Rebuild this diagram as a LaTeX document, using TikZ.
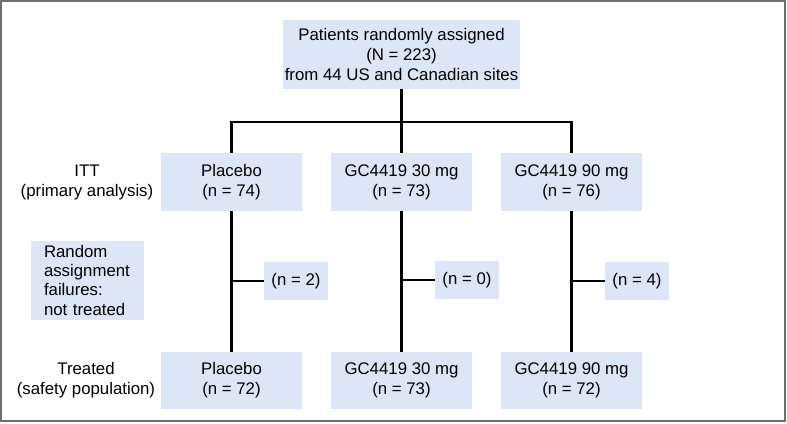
\documentclass[tikz,border=0pt]{standalone}
\usepackage{fontspec}
\setmainfont{Liberation Sans}
\definecolor{boxblue}{RGB}{220, 230, 246}
\definecolor{framegray}{RGB}{110, 110, 110}
\usetikzlibrary{positioning, calc}

\begin{document}
\begin{tikzpicture}[
  x=1pt, y=-1pt,
  bx/.style={fill=boxblue, align=center, inner sep=0pt, font=\fontsize{16.8}{20}\selectfont},
  lbl/.style={align=center, inner sep=0pt, font=\fontsize{16.8}{20}\selectfont},
  ln/.style={line width=2.6pt, black}
]
  \useasboundingbox (0,0) rectangle (787,423);
  \draw[framegray, line width=1.6pt] (1,1) rectangle (785,421);

  % Randomized
  \node[bx, minimum width=237pt, minimum height=69pt] (rand) at (401.5,54.5) {Patients randomly assigned\\(N = 223)\\from 44 US and Canadian sites};

  % ITT arms
  \node[bx, minimum width=141pt, minimum height=58pt] (itt1) at (231.5,182) {Placebo\\(n = 74)};
  \node[bx, minimum width=141pt, minimum height=58pt] (itt2) at (401.5,182) {GC4419 30 mg\\(n = 73)};
  \node[bx, minimum width=141pt, minimum height=58pt] (itt3) at (571.5,182) {GC4419 90 mg\\(n = 76)};

  % Not treated
  \node[bx, minimum width=64pt, minimum height=38pt] (fail1) at (296,281) {(n = 2)};
  \node[bx, minimum width=64pt, minimum height=38pt] (fail2) at (467,280) {(n = 0)};
  \node[bx, minimum width=64pt, minimum height=38pt] (fail3) at (637,281) {(n = 4)};

  % Treated arms
  \node[bx, minimum width=141pt, minimum height=57pt] (trt1) at (231.5,380.5) {Placebo\\(n = 72)};
  \node[bx, minimum width=141pt, minimum height=57pt] (trt2) at (401.5,380.5) {GC4419 30 mg\\(n = 73)};
  \node[bx, minimum width=141pt, minimum height=57pt] (trt3) at (571.5,380.5) {GC4419 90 mg\\(n = 72)};

  % Row labels
  \node[lbl] (ittlbl) at (87,182) {ITT\\(primary analysis)};
  \node[bx, minimum width=113pt, minimum height=79pt, align=left, text width=87pt] (faillbl) at (87.5,280.5) {\fontsize{16.8}{19}\selectfont Random\\assignment\\failures:\\not treated};
  \node[lbl] (trtlbl) at (86,380.5) {Treated\\(safety population)};

  \coordinate (bar) at (401.5,122);
  \draw[ln] (rand) -- (bar);
  \draw[ln] (itt1) |- (bar) -| (itt3);
  \draw[ln] (bar) -- (itt2);
  \draw[ln] (itt1) -- (trt1);
  \draw[ln] (itt2) -- (trt2);
  \draw[ln] (itt3) -- (trt3);
  \draw[ln] (fail1.west -| itt1) -- (fail1);
  \draw[ln] (fail2.west -| itt2) -- (fail2);
  \draw[ln] (fail3.west -| itt3) -- (fail3);
\end{tikzpicture}
\end{document}
